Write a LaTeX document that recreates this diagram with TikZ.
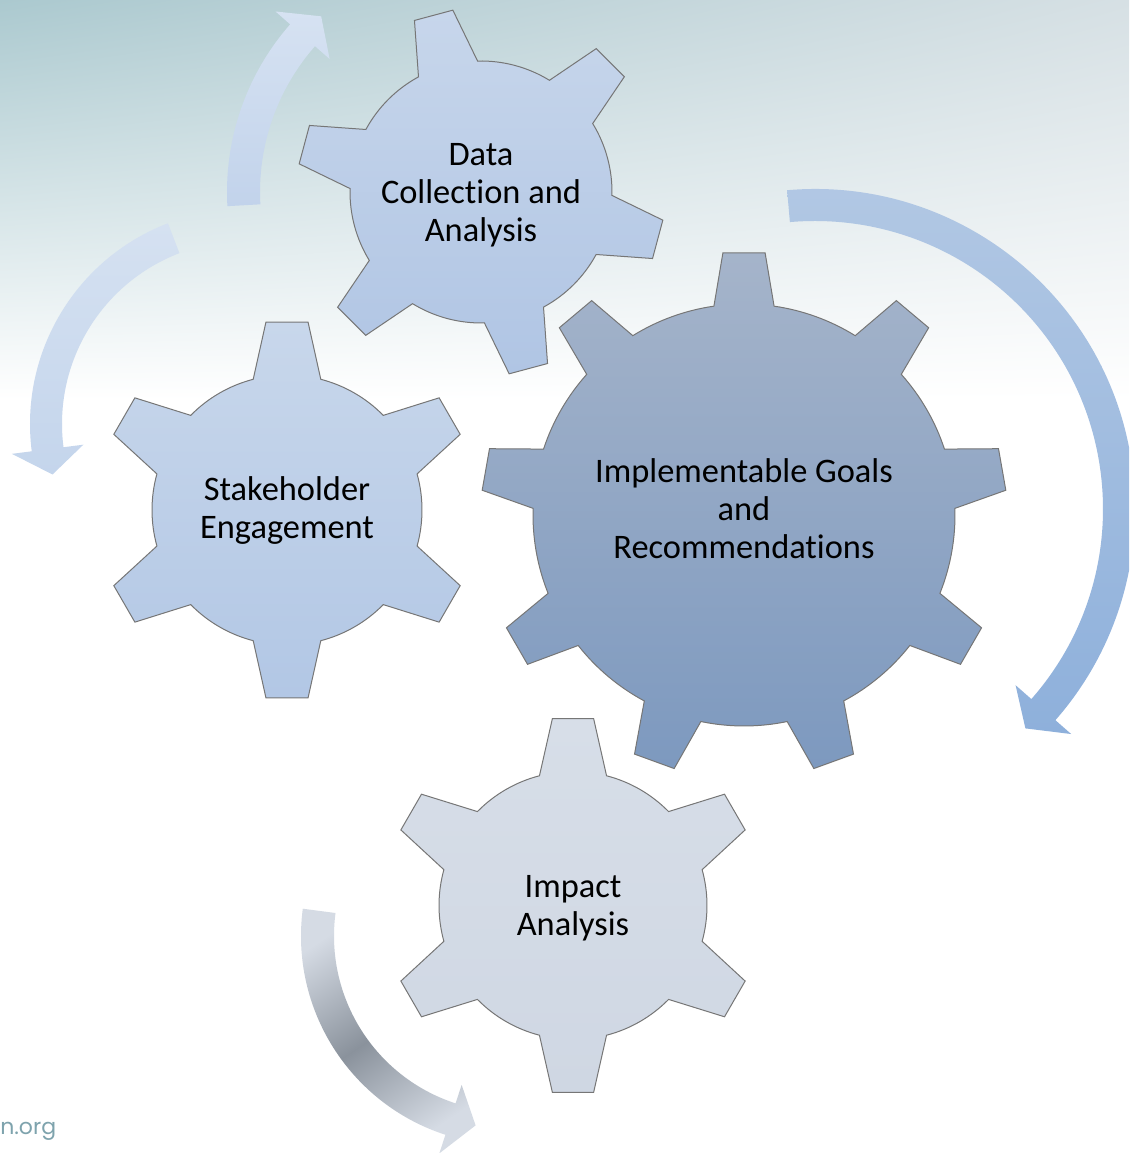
\documentclass[tikz,border=0pt]{standalone}
\usepackage{fontspec}
\usetikzlibrary{shadings}
\setmainfont[Ligatures={NoCommon}]{Carlito}
\newfontfamily\urlfont{Poppins}
\definecolor{bgTL}{HTML}{ABC9CF}
\definecolor{bgTR}{HTML}{D6E0E4}
\definecolor{dataT}{HTML}{C7D6EB}
\definecolor{dataB}{HTML}{B0C5E4}
\definecolor{stakeT}{HTML}{C8D7EB}
\definecolor{stakeB}{HTML}{B2C7E5}
\definecolor{bigT}{HTML}{A5B4CA}
\definecolor{bigB}{HTML}{7D99BF}
\definecolor{impT}{HTML}{D7DEE8}
\definecolor{impB}{HTML}{CFD7E3}
\definecolor{gearline}{HTML}{767676}
\definecolor{arAT}{HTML}{D6E2F2}
\definecolor{arAB}{HTML}{C2D3EB}
\definecolor{arBT}{HTML}{D5E1F1}
\definecolor{arBB}{HTML}{C4D5EC}
\definecolor{arCT}{HTML}{B2C8E4}
\definecolor{arCB}{HTML}{8EB0DB}
\definecolor{arDE}{HTML}{D5DBE4}
\definecolor{arDM}{HTML}{8A929C}
\definecolor{urlcol}{HTML}{7EA3AD}
% gear: #1 cx, #2 cy, #3 teeth, #4 first tooth angle, #5 R, #6 r, #7 tip half-angle, #8 base half-angle, #9 style
\newcommand\drawgear[9]{%
  \begin{scope}[shift={(#1,#2)}]
  \shade[#9] ({#4-#8}:#6) \foreach \k in {1,...,#3}{
     -- ({#4+(\k-1)*360/#3-#7}:#5) -- ({#4+(\k-1)*360/#3+#7}:#5)
     -- ({#4+(\k-1)*360/#3+#8}:#6)
     arc[start angle={#4+(\k-1)*360/#3+#8}, end angle={#4+\k*360/#3-#8}, radius=#6]} -- cycle;
  \end{scope}}
% curved arrow: #1 cx, #2 cy, #3 rin, #4 rout, #5 tail angle, #6 head base angle, #7 tip angle, #8 head half width, #9 style
\newcommand\curvarrow[9]{%
  \begin{scope}[shift={(#1,#2)}]
  \shade[#9] (#5:#4) arc[start angle=#5, end angle=#6, radius=#4]
     -- (#6:{(#3+#4)/2+#8}) -- (#7:{(#3+#4)/2}) -- (#6:{(#3+#4)/2-#8})
     -- (#6:#3) arc[start angle=#6, end angle=#5, radius=#3] -- cycle;
  \end{scope}}
\tikzset{
  gearstyle/.style={draw=gearline, line width=0.75pt, top color=#1T, bottom color=#1B},
  gtext/.style={align=center, inner sep=0pt, text=black, font=\fontsize{25.8}{28.5}\selectfont},
}
\begin{document}
\begin{tikzpicture}[x=0.75pt, y=0.75pt]
\useasboundingbox (0,0) rectangle (1129,1153);
\clip (0,0) rectangle (1129,1153);
\fill[white] (0,0) rectangle (1129,1153);
\shade[upper left=bgTL, upper right=bgTR, lower left=white, lower right=white] (0,753) rectangle (1129,1153);

% arrows
\curvarrow{481}{961}{221}{254}{183.2}{138.7}{132.3}{36}{top color=arAT, bottom color=arAB}
\curvarrow{245}{729}{183}{215}{111}{187.3}{194.7}{36}{top color=arBT, bottom color=arBB}
\curvarrow{815}{644}{288}{320}{95}{-41.3}{-46.2}{37}{top color=arCT, bottom color=arCB}
\curvarrow{510}{217}{176}{209}{172.5}{252}{259.7}{36}{top color=arDE, bottom color=arDE, middle color=arDM, shading angle=34}

% gears
\drawgear{481}{961}{6}{-15}{184}{131}{6.2}{13.5}{gearstyle=data}
\drawgear{287}{643}{6}{30}{189}{135}{6.4}{14.5}{gearstyle=stake}
\drawgear{744}{638}{9}{90}{263}{211}{4.6}{8.2}{gearstyle=big}
\drawgear{573}{247.5}{6}{30}{188}{134}{6.3}{14.5}{gearstyle=imp}

% labels
\node[gtext] (data) at (481,958) {Data\\Collection and\\Analysis};
\node[gtext] (stake) at (287,642) {Stakeholder\\Engagement};
\node[gtext] (goals) at (744,644) {Implementable Goals\\and\\Recommendations};
\node[gtext] (impact) at (573,244.5) {Impact\\Analysis};

\node[anchor=base west, inner sep=0pt, text=urlcol, font=\urlfont\fontsize{16.5}{18}\selectfont] (url) at (0,18) {n.org};
\end{tikzpicture}
\end{document}
